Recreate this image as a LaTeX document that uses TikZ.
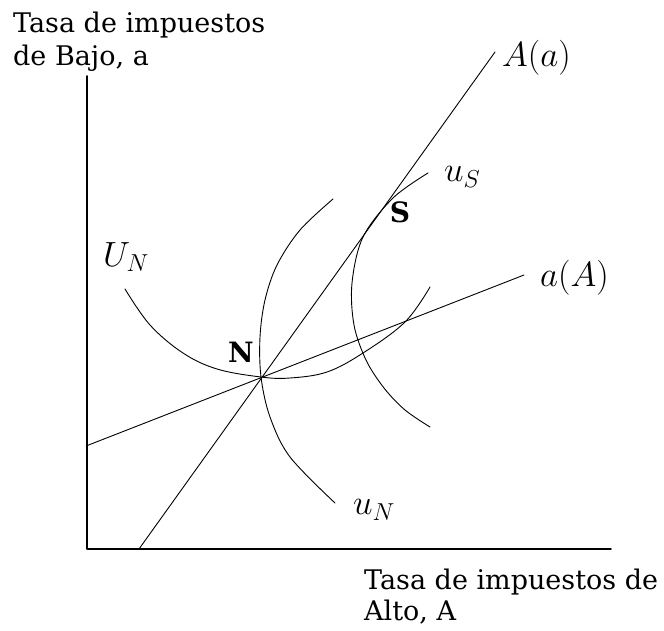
\RequirePackage{fix-cm}
\documentclass[tikz,border=0pt]{standalone}
\usepackage{fontspec}
\setmainfont{DejaVu Serif}

\begin{document}
\begin{tikzpicture}[x=1pt, y=-1pt, line join=round, line cap=round,
  axis/.style={line width=1.6pt},
  curve/.style={line width=0.9pt},
  txt/.style={font=\fontsize{27}{32}\selectfont, inner sep=0pt, anchor=base west},
  mlbl/.style={font=\fontsize{35}{40}\selectfont, inner sep=0pt},
  ptlbl/.style={font=\fontsize{28}{32}\selectfont\bfseries, inner sep=0pt}]
\useasboundingbox (0,0) rectangle (664,630);
% axes
\coordinate (top) at (87,76);
\coordinate (O) at (87,549);
\coordinate (right) at (611,549);
\draw[axis] (top) -- (O) -- (right);
\node[txt] (ylab1) at (13,32) {Tasa de impuestos};
\node[txt] (ylab2) at (13,65) {de Bajo, a};
\node[txt] (xlab1) at (364,589) {Tasa de impuestos de};
\node[txt] (xlab2) at (364,620) {Alto, A};
% reaction lines
\coordinate (Abot) at (139,549);
\coordinate (Atop) at (495,52);
\coordinate (aleft) at (86,446);
\coordinate (aright) at (524,275);
\draw[curve] (Abot) -- (Atop);
\draw[curve] (aleft) -- (aright);
\node[mlbl, anchor=west] (Alab) at (502,58) {$A(a)$};
\node[mlbl, anchor=west] (alab) at (540,278) {$a(A)$};
% indifference curves
\draw[curve] plot[smooth, tension=0.6] coordinates {(125,289) (150,325) (183,353) (217,369) (261,377) (290,378) (327,372) (363,353) (405,322) (430,287)};
\draw[curve] plot[smooth, tension=0.55] coordinates {(333,199) (300,230) (277,265) (265,300) (260,337) (261,377) (270,417) (290,457) (335,503)};
\draw[curve] plot[smooth, tension=0.55] coordinates {(428,173) (393,198) (363,237) (352,283) (354,325) (366,360) (384,388) (405,410) (430,427)};
\node[mlbl] (UNlab) at (126,257) {$U_N$};
\node[mlbl, anchor=west] (uNlab) at (353,510) {$u_N$};
\node[mlbl, anchor=west] (uSlab) at (444,177) {$u_S$};
% equilibria
\node[ptlbl] (N) at (241,352) {N};
\node[ptlbl] (S) at (400,212) {S};
\end{tikzpicture}
\end{document}
